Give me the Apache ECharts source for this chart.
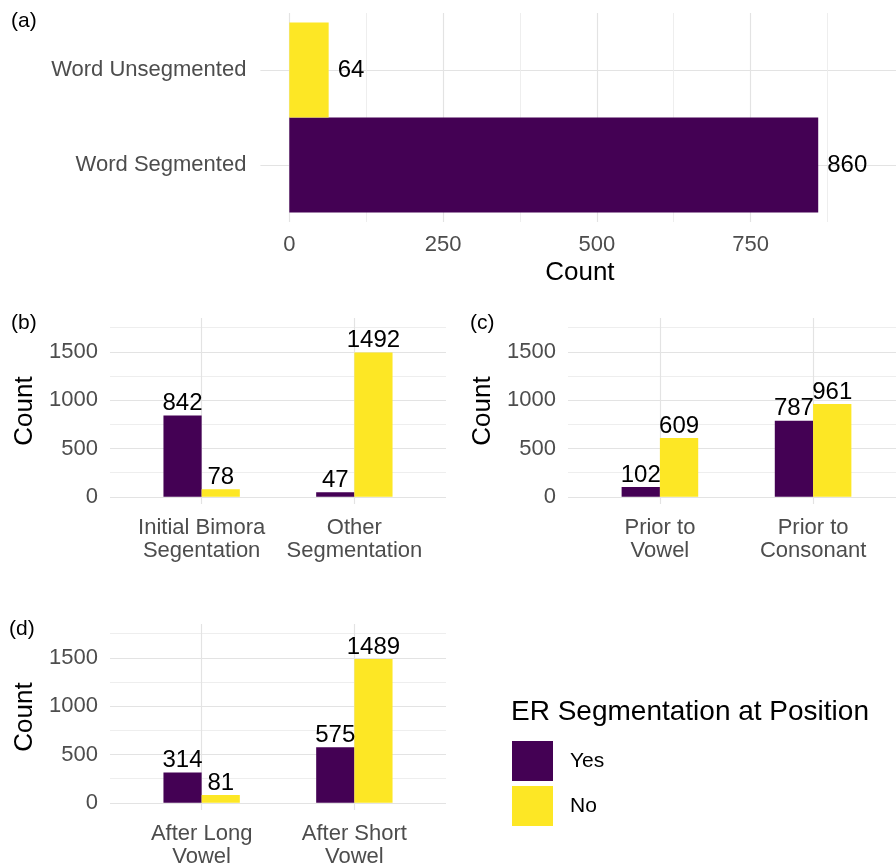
<!DOCTYPE html>
<html>
<head>
<meta charset="utf-8">
<script src="https://cdn.jsdelivr.net/npm/echarts@6/dist/echarts.min.js"></script>
<style>
  html, body { margin: 0; padding: 0; background: #ffffff; }
  #chart { width: 896px; height: 866px; }
</style>
</head>
<body>
<div id="chart"></div>
<script>
// (a) word-level segmentation
const wordCategories = ['Word Segmented', 'Word Unsegmented'];
const wordYes = [860, null];
const wordNo = [null, 64];

// (b) bimora segmentation
const bimoraCategories = ['Initial Bimora\nSegentation', 'Other\nSegmentation'];
const bimoraYes = [842, 47];
const bimoraNo = [78, 1492];

// (c) following segment
const priorCategories = ['Prior to\nVowel', 'Prior to\nConsonant'];
const priorYes = [102, 787];
const priorNo = [609, 961];

// (d) preceding vowel length
const afterCategories = ['After Long\nVowel', 'After Short\nVowel'];
const afterYes = [314, 575];
const afterNo = [81, 1489];

const seriesNames = ['Yes', 'No'];
const legendTitle = 'ER Segmentation at Position';
const countTitle = 'Count';

const COLORS = { Yes: '#440154', No: '#FDE725' };
const FONT = '"Liberation Sans", Arial, Helvetica, sans-serif';
const GRID_MAJOR = { color: '#E3E3E3', width: 1.2 };
const GRID_MINOR = { color: '#ECECEC', width: 0.9 };
const TICK_TEXT = { color: '#4D4D4D', fontSize: 22, fontFamily: FONT };

// discrete axes get 0.6 of a category step of padding on each side
const EXPAND = 0.6;
const SPAN = 2 * EXPAND + 1;          // 2 categories -> 0.4 .. 2.6
const INNER = (EXPAND - 0.5) / SPAN;  // offset of the band layout inside the panel

const grids = [], xAxes = [], yAxes = [], series = [];

function hiddenAxis(extra) {
  return Object.assign({ show: false, axisLine: { show: false }, axisTick: { show: false },
    axisLabel: { show: false }, splitLine: { show: false } }, extra);
}

// axis with lines only at the discrete positions 1 and 2
function discreteGuideAxis(gridIndex, cats, labelOpts) {
  return {
    type: 'value', gridIndex, min: 1 - EXPAND, max: 2 + EXPAND,
    minInterval: 1, maxInterval: 1,
    axisLine: { show: false }, axisTick: { show: false },
    splitLine: { show: true, showMinLine: false, showMaxLine: false, lineStyle: GRID_MAJOR },
    axisLabel: Object.assign({
      showMinLabel: false, showMaxLabel: false,
      formatter: v => (Number.isInteger(v) && cats[v - 1]) ? cats[v - 1] : ''
    }, TICK_TEXT, labelOpts)
  };
}

function countAxis(gridIndex, min, max, step, nameOpts, labelOpts) {
  return Object.assign({
    type: 'value', gridIndex, min, max, minInterval: step, maxInterval: step,
    axisLine: { show: false }, axisTick: { show: false },
    minorTick: { show: false, splitNumber: 2 },
    splitLine: { show: true, showMinLine: false, showMaxLine: false, lineStyle: GRID_MAJOR },
    minorSplitLine: { show: true, lineStyle: GRID_MINOR },
    axisLabel: Object.assign({
      showMinLabel: false, showMaxLabel: false,
      formatter: v => (v % step === 0 ? String(v) : '')
    }, TICK_TEXT, labelOpts),
    name: countTitle, nameLocation: 'middle',
    nameTextStyle: { color: '#000', fontSize: 26, fontFamily: FONT }
  }, nameOpts);
}

function panelGrids(box, horizontal) {
  const outer = Object.assign({ outerBoundsMode: 'none', containLabel: false }, box);
  const inner = Object.assign({ outerBoundsMode: 'none', containLabel: false }, box);
  if (horizontal) {
    inner.top = box.top + box.height * INNER;
    inner.height = box.height * (1 - 2 * INNER);
  } else {
    inner.left = box.left + box.width * INNER;
    inner.width = box.width * (1 - 2 * INNER);
  }
  grids.push(outer, inner);
  return [grids.length - 2, grids.length - 1];
}

function barLabel(position, distance) {
  return { show: true, position, distance, color: '#000', fontSize: 24, fontFamily: FONT };
}

// horizontal panel (a)
function addHorizontalPanel(box, cats, yes, no, countMin, countMax, step) {
  const [g0, g1] = panelGrids(box, true);
  const ax0 = xAxes.length, ay0 = yAxes.length;
  xAxes.push(countAxis(g0, countMin, countMax, step, { nameGap: 38 }, { margin: 12 }));
  yAxes.push(discreteGuideAxis(g0, cats, { margin: 14 }));
  xAxes.push(hiddenAxis({ type: 'value', gridIndex: g1, min: countMin, max: countMax }));
  yAxes.push(hiddenAxis({ type: 'category', gridIndex: g1, data: cats }));
  [[seriesNames[0], yes], [seriesNames[1], no]].forEach(([name, data]) => {
    series.push({
      type: 'bar', name, data, xAxisIndex: ax0 + 1, yAxisIndex: ay0 + 1,
      barWidth: '100%', barGap: '-100%',
      itemStyle: { color: COLORS[name], borderWidth: 0 },
      label: barLabel('right', 9)
    });
  });
}

// dodged vertical panels (b)-(d)
function addVerticalPanel(box, cats, yes, no, countMin, countMax, step) {
  const [g0, g1] = panelGrids(box, false);
  const ax0 = xAxes.length, ay0 = yAxes.length;
  xAxes.push(discreteGuideAxis(g0, cats, { margin: 12, lineHeight: 23, align: 'center' }));
  yAxes.push(countAxis(g0, countMin, countMax, step, { nameGap: 72 }, { margin: 12 }));
  xAxes.push(hiddenAxis({ type: 'category', gridIndex: g1, data: cats }));
  yAxes.push(hiddenAxis({ type: 'value', gridIndex: g1, min: countMin, max: countMax }));
  [[seriesNames[0], yes], [seriesNames[1], no]].forEach(([name, data]) => {
    series.push({
      type: 'bar', name, data, xAxisIndex: ax0 + 1, yAxisIndex: ay0 + 1,
      barWidth: '25%', barGap: '0%',
      itemStyle: { color: COLORS[name], borderWidth: 0 },
      label: barLabel('top', 0)
    });
  });
}

addHorizontalPanel({ left: 260.4, top: 13, width: 639, height: 209 },
  wordCategories, wordYes, wordNo, -47, 992, 250);
addVerticalPanel({ left: 110, top: 318, width: 336, height: 186 },
  bimoraCategories, bimoraYes, bimoraNo, -75, 1850, 500);
addVerticalPanel({ left: 568, top: 318, width: 337, height: 186 },
  priorCategories, priorYes, priorNo, -75, 1850, 500);
addVerticalPanel({ left: 110, top: 624, width: 336, height: 186 },
  afterCategories, afterYes, afterNo, -75, 1850, 500);

function tag(text, left, top) {
  return { text, left, top, padding: 0,
    textStyle: { fontSize: 21, fontWeight: 'normal', color: '#000', fontFamily: FONT } };
}

const option = {
  animation: false,
  backgroundColor: '#ffffff',
  textStyle: { fontFamily: FONT },
  title: [
    tag('(a)', 11, 11),
    tag('(b)', 11, 313),
    tag('(c)', 470, 313),
    tag('(d)', 9, 619),
    { text: legendTitle, left: 511, top: 698, padding: 0,
      textStyle: { fontSize: 28, fontWeight: 'normal', color: '#000', fontFamily: FONT } }
  ],
  legend: {
    data: seriesNames,
    orient: 'vertical', left: 512, top: 741, padding: 0,
    itemWidth: 41, itemHeight: 40, itemGap: 5,
    icon: 'rect', selectedMode: false,
    itemStyle: { borderWidth: 0 },
    textStyle: { fontSize: 21, color: '#000', fontFamily: FONT, padding: [0, 0, 0, 12] }
  },
  grid: grids,
  xAxis: xAxes,
  yAxis: yAxes,
  series
};

const chart = echarts.init(document.getElementById('chart'), null, { renderer: 'canvas' });
chart.setOption(option);
</script>
</body>
</html>
